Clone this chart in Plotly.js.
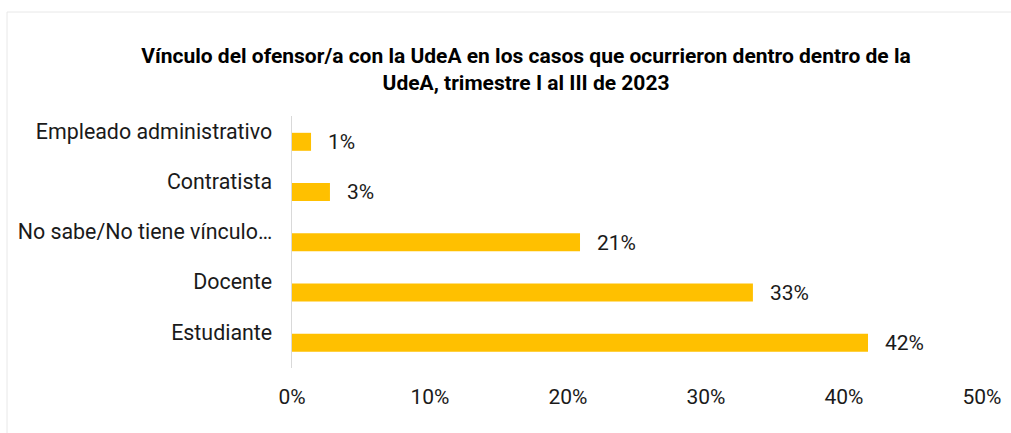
<!DOCTYPE html>
<html>
<head>
<meta charset="utf-8">
<script src="https://cdn.plot.ly/plotly-3.0.1.min.js"></script>
<style>
  html, body { margin: 0; padding: 0; background: #fff; }
  #chart { width: 1011px; height: 433px; }
</style>
</head>
<body>
<div id="chart"></div>
<script>
const categories = ["Estudiante", "Docente", "No sabe/No tiene vínculo…", "Contratista", "Empleado administrativo"];
const values = [0.4174, 0.334, 0.2087, 0.0275, 0.0138];
const xTickVals = [0, 0.1, 0.2, 0.3, 0.4, 0.5];
const xTickText = ["0%", "10%", "20%", "30%", "40%", "50%"];
const titleText = "Vínculo del ofensor/a con la UdeA en los casos que ocurrieron dentro dentro de la<br>UdeA, trimestre I al III de 2023";

const FONT = "Roboto, 'Noto Sans', Arial, sans-serif";
const TXT = "#1a1a1a";

const trace = {
  type: "bar",
  orientation: "h",
  x: values,
  y: categories,
  marker: { color: "#FFC000" },
  width: 0.358,
  offset: -0.394,
  hoverinfo: "skip"
};

const annotations = values.map((v, i) => ({
  x: v,
  y: categories[i],
  xref: "x",
  yref: "y",
  text: Math.round(v * 100) + "%",
  showarrow: false,
  xanchor: "left",
  yanchor: "middle",
  xshift: 15,
  yshift: -11,
  font: { family: FONT, size: 21, color: TXT }
}));

const layout = {
  width: 1011,
  height: 433,
  margin: { l: 292, r: 29, t: 116, b: 65 },
  paper_bgcolor: "#ffffff",
  plot_bgcolor: "#ffffff",
  showlegend: false,
  title: {
    text: titleText,
    font: { family: FONT, size: 21, color: "#000000", weight: "bold" },
    xref: "container",
    yref: "container",
    x: 0.5203,
    xanchor: "center",
    y: 0.855,
    yanchor: "middle"
  },
  xaxis: {
    range: [0, 0.5],
    tickvals: xTickVals,
    ticktext: xTickText,
    showgrid: false,
    zeroline: false,
    showline: false,
    ticks: "",
    ticklabelstandoff: 14,
    tickfont: { family: FONT, size: 21, color: TXT },
    fixedrange: true
  },
  yaxis: {
    type: "category",
    range: [-0.7164, 4.2985],
    showgrid: false,
    zeroline: false,
    showline: true,
    linecolor: "#d9d9d9",
    linewidth: 1.5,
    ticks: "",
    ticklabelstandoff: 14,
    tickfont: { family: FONT, size: 21.4, color: TXT },
    fixedrange: true
  },
  annotations: annotations,
  shapes: [{
    type: "rect",
    xref: "paper",
    yref: "paper",
    x0: (7 - 292) / 690,
    x1: (1020 - 292) / 690,
    y0: (368 - 445) / 252,
    y1: (368 - 12) / 252,
    line: { color: "#e8e8e8", width: 1 },
    fillcolor: "rgba(0,0,0,0)",
    layer: "below"
  }]
};

Plotly.newPlot("chart", [trace], layout, { displayModeBar: false, staticPlot: true });
</script>
</body>
</html>
